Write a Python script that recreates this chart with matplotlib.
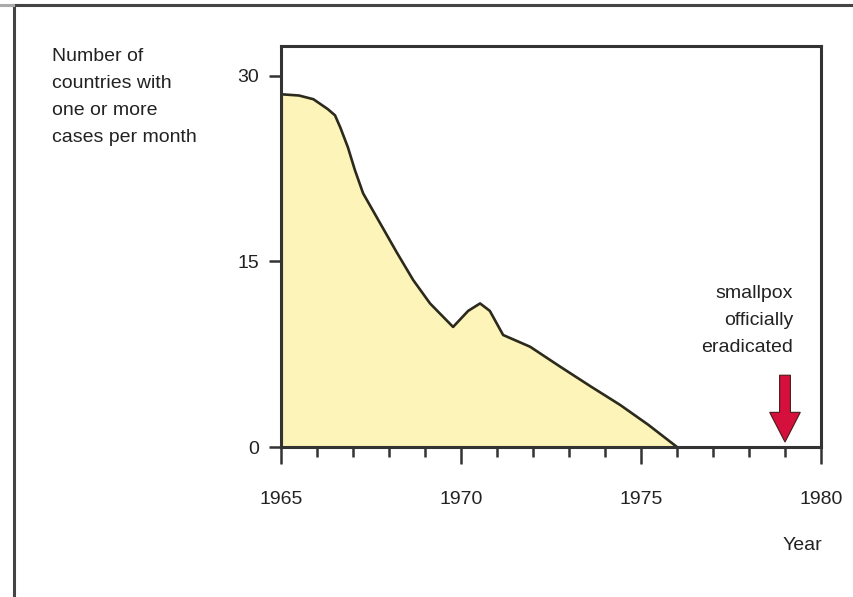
import matplotlib.pyplot as plt
from matplotlib.lines import Line2D

plt.rcParams['font.family'] = ['Liberation Sans', 'DejaVu Sans']

years = [1965.0, 1965.5, 1965.9, 1966.3, 1966.5, 1966.65, 1966.86, 1967.05,
         1967.28, 1967.75, 1968.22, 1968.67, 1969.14, 1969.78, 1970.2, 1970.53,
         1970.8, 1971.17, 1971.92, 1972.75, 1973.6, 1974.42, 1975.2, 1976.0]
countries = [28.5, 28.4, 28.1, 27.3, 26.8, 25.8, 24.2, 22.4,
             20.5, 18.1, 15.7, 13.5, 11.6, 9.7, 11.0, 11.6,
             11.0, 9.05, 8.1, 6.5, 4.9, 3.4, 1.8, 0.0]
y_ticks = [0, 15, 30]
x_ticks = [1965, 1970, 1975, 1980]
eradication_year = 1979
arrow_top, arrow_tip = 5.8, 0.4

fig = plt.figure(figsize=(8.54, 5.97), dpi=100)
ax = fig.add_axes([281 / 854, 1 - 447 / 597, 540 / 854, 401 / 597])

ax.fill_between(years, countries, 0, color='#fcf4b8', lw=0, zorder=1)
ax.plot(years, countries, color='#2b2a1c', lw=1.9, zorder=2,
        solid_joinstyle='round')
ax.plot([1965, 1965], [0, countries[0]], color='#2b2a1c', lw=2.2, zorder=2)

ax.arrow(eradication_year, arrow_top, 0, arrow_tip - arrow_top,
         width=0.3, head_width=0.85, head_length=2.4,
         length_includes_head=True, fc='#d6103c', ec='#4a1a1a', lw=0.8,
         zorder=4)

ax.set_xlim(1965, 1980)
ax.set_ylim(0, 32.4)
ax.set_xticks(x_ticks)
ax.set_xticks(range(1965, 1981), minor=True)
ax.set_yticks(y_ticks)
ax.set_xticklabels([str(x) for x in x_ticks], fontsize=14, color='#222222')
ax.set_yticklabels([str(y) for y in y_ticks], fontsize=14, color='#222222')

for sp in ax.spines.values():
    sp.set_color('#333333')
    sp.set_linewidth(2.2)
    sp.set_zorder(3)

ax.tick_params(axis='x', which='major', direction='out', length=12, width=1.8,
               color='#333333', pad=20)
ax.tick_params(axis='x', which='minor', direction='out', length=7, width=1.8,
               color='#333333')
ax.tick_params(axis='y', which='major', direction='out', length=9, width=1.8,
               color='#333333', pad=7)

fig.text(52 / 854, 1 - 48 / 597, 'Number of\ncountries with\none or more\ncases per month',
         fontsize=14, color='#222222', ha='left', va='top', linespacing=1.78)
fig.text(793 / 854, 1 - 285 / 597, 'smallpox\nofficially\neradicated',
         fontsize=14, color='#222222', ha='right', va='top', linespacing=1.78)
fig.text(822 / 854, 1 - 545 / 597, 'Year', fontsize=14, color='#222222',
         ha='right', va='center')

# outer frame of the figure
fig.add_artist(Line2D([14 / 854, 1], [1 - 5 / 597, 1 - 5 / 597],
                      transform=fig.transFigure, color='#444444', lw=2.2))
fig.add_artist(Line2D([14 / 854, 14 / 854], [0, 1 - 5 / 597],
                      transform=fig.transFigure, color='#444444', lw=2.2))
fig.add_artist(Line2D([0, 13 / 854], [1 - 5 / 597, 1 - 5 / 597],
                      transform=fig.transFigure, color='#aaaaaa', lw=2.2))

fig.savefig('out.png', dpi=100)
